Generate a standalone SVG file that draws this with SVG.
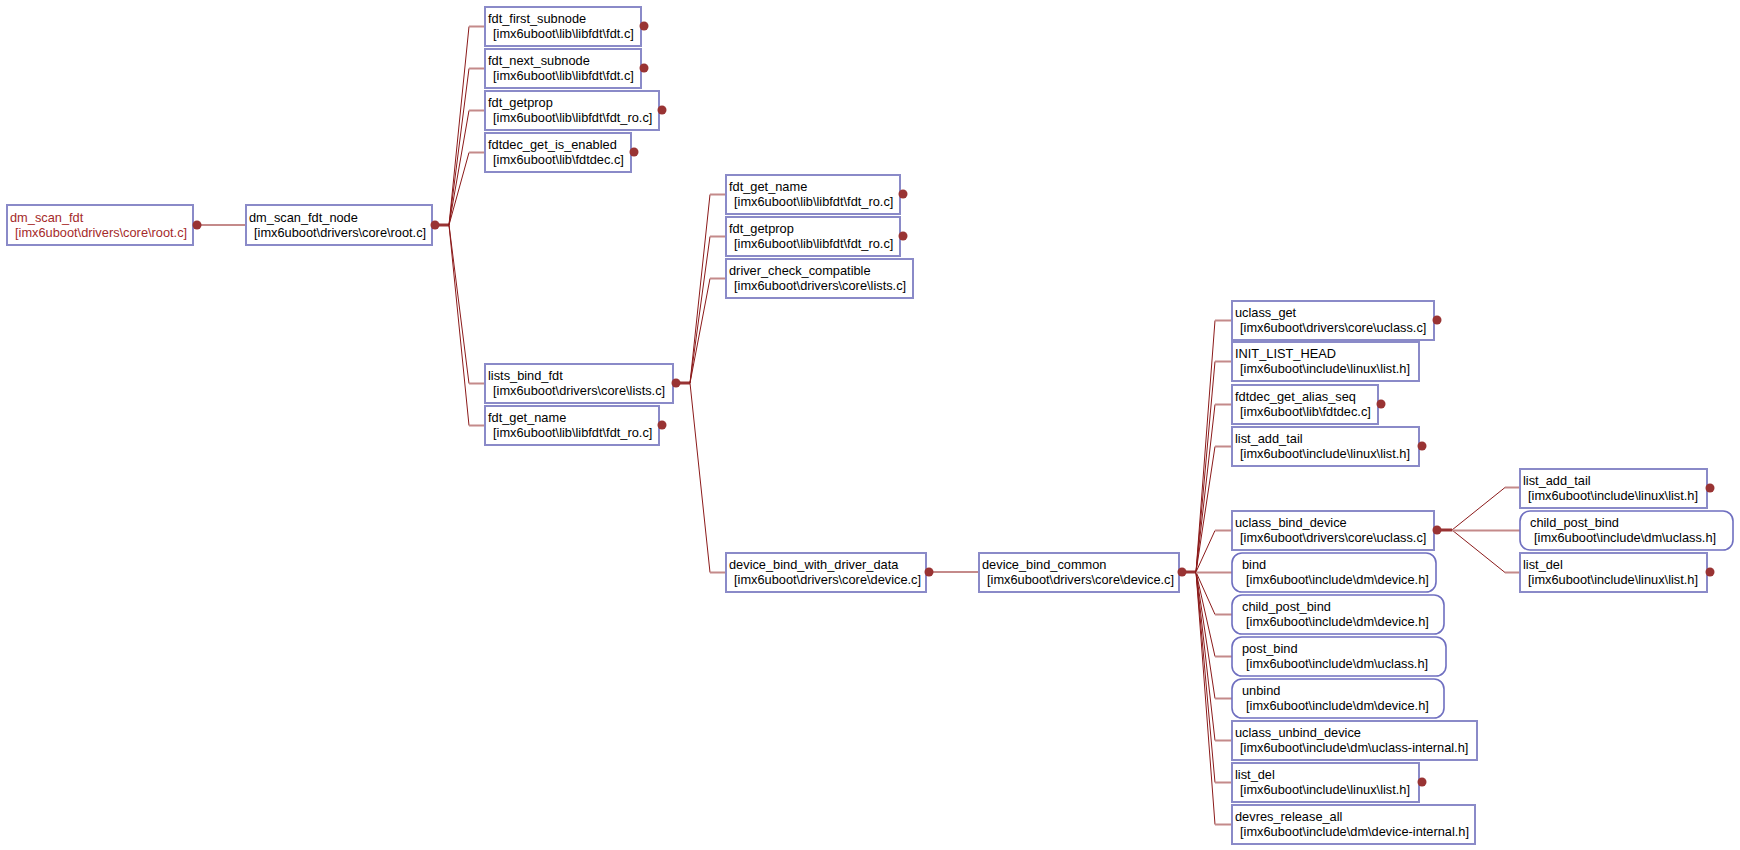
<svg xmlns="http://www.w3.org/2000/svg" width="1740" height="850" viewBox="0 0 1740 850">
<style>
.box{fill:#fff;stroke:#8a8ac8;stroke-width:2}
.rbox{fill:#fff;stroke:#6f6fc0;stroke-width:1.6}
.t{font-family:"Liberation Sans",Arial,sans-serif;font-size:12.8px;fill:#000}
.red{fill:#a52a2a}
.dot{fill:#993333}
.ln{stroke:#8b1a1a;stroke-width:1;fill:none}
.stub{stroke:#c48a8a;stroke-width:2;fill:none}
.trunk{stroke:#993333;stroke-width:3;fill:none}
</style>
<rect width="1740" height="850" fill="#fff"/>
<g id="connectors">
<line class="stub" x1="197" y1="225" x2="246" y2="225"/>
<line class="trunk" x1="435" y1="225" x2="449" y2="225"/>
<path class="ln" d="M449,225 L469,26.5 M449,225 L469,68.5 M449,225 L469,110.5 M449,225 L469,152.5 M449,225 L469,383.5 M449,225 L469,425.5"/>
<path class="stub" d="M469,26.5 H485 M469,68.5 H485 M469,110.5 H485 M469,152.5 H485 M469,383.5 H485 M469,425.5 H485"/>
<line class="trunk" x1="676" y1="383" x2="690" y2="383"/>
<path class="ln" d="M690,383 L710,194.5 M690,383 L710,236.5 M690,383 L710,278.5 M690,383 L710,572.5"/>
<path class="stub" d="M710,194.5 H726 M710,236.5 H726 M710,278.5 H726 M710,572.5 H726"/>
<line class="stub" x1="929" y1="572" x2="979" y2="572"/>
<line class="trunk" x1="1182" y1="572" x2="1196" y2="572"/>
<path class="ln" d="M1196,572 L1215,320.5 M1196,572 L1215,361.5 M1196,572 L1215,404.5 M1196,572 L1215,446.5 M1196,572 L1215,530.5 M1196,572 L1215,614.5 M1196,572 L1215,656.5 M1196,572 L1215,698.5 M1196,572 L1215,740.5 M1196,572 L1215,782.5 M1196,572 L1215,824.5"/>
<path class="stub" d="M1215,320.5 H1232 M1215,361.5 H1232 M1215,404.5 H1232 M1215,446.5 H1232 M1215,530.5 H1232 M1196,572.5 H1232 M1215,614.5 H1232 M1215,656.5 H1232 M1215,698.5 H1232 M1215,740.5 H1232 M1215,782.5 H1232 M1215,824.5 H1232"/>
<line class="trunk" x1="1437" y1="530" x2="1452" y2="530"/>
<path class="ln" d="M1452,530 L1505,487.5 M1452,530 L1505,572.5"/>
<path class="stub" d="M1505,487.5 H1520 M1452,530.5 H1520 M1505,572.5 H1520"/>
</g>

<g id="dm_scan_fdt">
<rect class="box" x="7" y="205" width="186" height="40"/>
<text class="t red" x="10" y="222">dm_scan_fdt</text>
<text class="t red" x="15" y="237">[imx6uboot\drivers\core\root.c]</text>
<circle class="dot" cx="197" cy="225" r="4.5"/>
</g>
<g id="dm_scan_fdt_node">
<rect class="box" x="246" y="205" width="186" height="40"/>
<text class="t" x="249" y="222">dm_scan_fdt_node</text>
<text class="t" x="254" y="237">[imx6uboot\drivers\core\root.c]</text>
<circle class="dot" cx="435" cy="225" r="4.5"/>
</g>

<g id="fdt_first_subnode">
<rect class="box" x="485" y="7" width="156" height="39"/>
<text class="t" x="488" y="23">fdt_first_subnode</text>
<text class="t" x="493" y="38">[imx6uboot\lib\libfdt\fdt.c]</text>
<circle class="dot" cx="644" cy="26" r="4.5"/>
</g>
<g id="fdt_next_subnode">
<rect class="box" x="485" y="49" width="156" height="39"/>
<text class="t" x="488" y="65">fdt_next_subnode</text>
<text class="t" x="493" y="80">[imx6uboot\lib\libfdt\fdt.c]</text>
<circle class="dot" cx="644" cy="68" r="4.5"/>
</g>
<g id="fdt_getprop_1">
<rect class="box" x="485" y="91" width="174" height="39"/>
<text class="t" x="488" y="107">fdt_getprop</text>
<text class="t" x="493" y="122">[imx6uboot\lib\libfdt\fdt_ro.c]</text>
<circle class="dot" cx="662" cy="110" r="4.5"/>
</g>
<g id="fdtdec_get_is_enabled">
<rect class="box" x="485" y="133" width="146" height="39"/>
<text class="t" x="488" y="149">fdtdec_get_is_enabled</text>
<text class="t" x="493" y="164">[imx6uboot\lib\fdtdec.c]</text>
<circle class="dot" cx="634" cy="152" r="4.5"/>
</g>
<g id="lists_bind_fdt">
<rect class="box" x="485" y="364" width="188" height="39"/>
<text class="t" x="488" y="380">lists_bind_fdt</text>
<text class="t" x="493" y="395">[imx6uboot\drivers\core\lists.c]</text>
<circle class="dot" cx="676" cy="383" r="4.5"/>
</g>
<g id="fdt_get_name_1">
<rect class="box" x="485" y="406" width="174" height="39"/>
<text class="t" x="488" y="422">fdt_get_name</text>
<text class="t" x="493" y="437">[imx6uboot\lib\libfdt\fdt_ro.c]</text>
<circle class="dot" cx="662" cy="425" r="4.5"/>
</g>

<g id="fdt_get_name_2">
<rect class="box" x="726" y="175" width="174" height="39"/>
<text class="t" x="729" y="191">fdt_get_name</text>
<text class="t" x="734" y="206">[imx6uboot\lib\libfdt\fdt_ro.c]</text>
<circle class="dot" cx="903" cy="194" r="4.5"/>
</g>
<g id="fdt_getprop_2">
<rect class="box" x="726" y="217" width="174" height="39"/>
<text class="t" x="729" y="233">fdt_getprop</text>
<text class="t" x="734" y="248">[imx6uboot\lib\libfdt\fdt_ro.c]</text>
<circle class="dot" cx="903" cy="236" r="4.5"/>
</g>
<g id="driver_check_compatible">
<rect class="box" x="726" y="259" width="187" height="39"/>
<text class="t" x="729" y="275">driver_check_compatible</text>
<text class="t" x="734" y="290">[imx6uboot\drivers\core\lists.c]</text>
</g>
<g id="device_bind_with_driver_data">
<rect class="box" x="726" y="553" width="200" height="39"/>
<text class="t" x="729" y="569">device_bind_with_driver_data</text>
<text class="t" x="734" y="584">[imx6uboot\drivers\core\device.c]</text>
<circle class="dot" cx="929" cy="572" r="4.5"/>
</g>
<g id="device_bind_common">
<rect class="box" x="979" y="553" width="200" height="39"/>
<text class="t" x="982" y="569">device_bind_common</text>
<text class="t" x="987" y="584">[imx6uboot\drivers\core\device.c]</text>
<circle class="dot" cx="1182" cy="572" r="4.5"/>
</g>

<g id="uclass_get">
<rect class="box" x="1232" y="301" width="202" height="39"/>
<text class="t" x="1235" y="317">uclass_get</text>
<text class="t" x="1240" y="332">[imx6uboot\drivers\core\uclass.c]</text>
<circle class="dot" cx="1437" cy="320" r="4.5"/>
</g>
<g id="INIT_LIST_HEAD">
<rect class="box" x="1232" y="342" width="187" height="39"/>
<text class="t" x="1235" y="358">INIT_LIST_HEAD</text>
<text class="t" x="1240" y="373">[imx6uboot\include\linux\list.h]</text>
</g>
<g id="fdtdec_get_alias_seq">
<rect class="box" x="1232" y="385" width="146" height="39"/>
<text class="t" x="1235" y="401">fdtdec_get_alias_seq</text>
<text class="t" x="1240" y="416">[imx6uboot\lib\fdtdec.c]</text>
<circle class="dot" cx="1381" cy="404" r="4.5"/>
</g>
<g id="list_add_tail_1">
<rect class="box" x="1232" y="427" width="187" height="39"/>
<text class="t" x="1235" y="443">list_add_tail</text>
<text class="t" x="1240" y="458">[imx6uboot\include\linux\list.h]</text>
<circle class="dot" cx="1422" cy="446" r="4.5"/>
</g>
<g id="uclass_bind_device">
<rect class="box" x="1232" y="511" width="202" height="39"/>
<text class="t" x="1235" y="527">uclass_bind_device</text>
<text class="t" x="1240" y="542">[imx6uboot\drivers\core\uclass.c]</text>
<circle class="dot" cx="1437" cy="530" r="4.5"/>
</g>
<g id="bind">
<rect class="rbox" x="1232" y="553" width="204" height="39" rx="10"/>
<text class="t" x="1242" y="569">bind</text>
<text class="t" x="1246" y="584">[imx6uboot\include\dm\device.h]</text>
</g>
<g id="child_post_bind_1">
<rect class="rbox" x="1232" y="595" width="212" height="39" rx="10"/>
<text class="t" x="1242" y="611">child_post_bind</text>
<text class="t" x="1246" y="626">[imx6uboot\include\dm\device.h]</text>
</g>
<g id="post_bind">
<rect class="rbox" x="1232" y="637" width="214" height="39" rx="10"/>
<text class="t" x="1242" y="653">post_bind</text>
<text class="t" x="1246" y="668">[imx6uboot\include\dm\uclass.h]</text>
</g>
<g id="unbind">
<rect class="rbox" x="1232" y="679" width="212" height="39" rx="10"/>
<text class="t" x="1242" y="695">unbind</text>
<text class="t" x="1246" y="710">[imx6uboot\include\dm\device.h]</text>
</g>
<g id="uclass_unbind_device">
<rect class="box" x="1232" y="721" width="245" height="39"/>
<text class="t" x="1235" y="737">uclass_unbind_device</text>
<text class="t" x="1240" y="752">[imx6uboot\include\dm\uclass-internal.h]</text>
</g>
<g id="list_del_1">
<rect class="box" x="1232" y="763" width="187" height="39"/>
<text class="t" x="1235" y="779">list_del</text>
<text class="t" x="1240" y="794">[imx6uboot\include\linux\list.h]</text>
<circle class="dot" cx="1422" cy="782" r="4.5"/>
</g>
<g id="devres_release_all">
<rect class="box" x="1232" y="805" width="243" height="39"/>
<text class="t" x="1235" y="821">devres_release_all</text>
<text class="t" x="1240" y="836">[imx6uboot\include\dm\device-internal.h]</text>
</g>

<g id="list_add_tail_2">
<rect class="box" x="1520" y="469" width="187" height="39"/>
<text class="t" x="1523" y="485">list_add_tail</text>
<text class="t" x="1528" y="500">[imx6uboot\include\linux\list.h]</text>
<circle class="dot" cx="1710" cy="488" r="4.5"/>
</g>
<g id="child_post_bind_2">
<rect class="rbox" x="1520" y="511" width="213" height="39" rx="10"/>
<text class="t" x="1530" y="527">child_post_bind</text>
<text class="t" x="1534" y="542">[imx6uboot\include\dm\uclass.h]</text>
</g>
<g id="list_del_2">
<rect class="box" x="1520" y="553" width="187" height="39"/>
<text class="t" x="1523" y="569">list_del</text>
<text class="t" x="1528" y="584">[imx6uboot\include\linux\list.h]</text>
<circle class="dot" cx="1710" cy="572" r="4.5"/>
</g>
</svg>
